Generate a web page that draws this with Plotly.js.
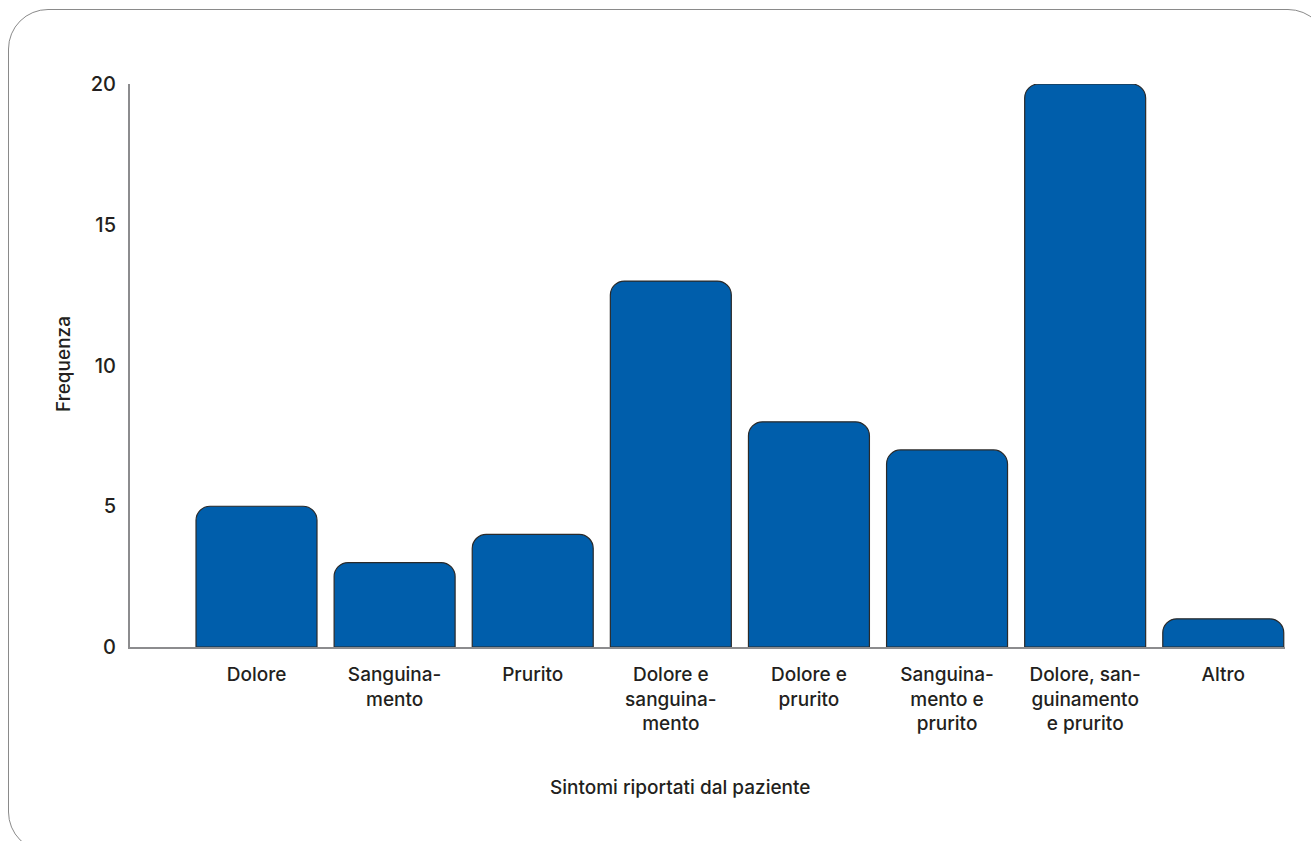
<!DOCTYPE html>
<html>
<head>
<meta charset="utf-8">
<script src="https://cdn.plot.ly/plotly-3.0.1.min.js"></script>
<style>
  html, body { margin: 0; padding: 0; background: #ffffff; overflow: hidden; }
  #wrap { position: relative; width: 1311px; height: 841px; overflow: hidden; }
  #chart { position: absolute; left: 0; top: 0; width: 1311px; height: 841px; }
  #frame {
    position: absolute; left: 8px; top: 9px; width: 1320px; height: 843px;
    border: 1.5px solid #8a8a8a; border-radius: 40px; box-sizing: border-box;
    pointer-events: none;
  }
</style>
</head>
<body>
<div id="wrap">
  <div id="chart"></div>
  <div id="frame"></div>
</div>
<script>
// Symptom categories (x positions), their labels and reported frequencies
const categories = [0, 1, 2, 3, 4, 5, 6, 7];
const categoryLabels = [
  "Dolore",
  "Sanguina-<br>mento",
  "Prurito",
  "Dolore e<br>sanguina-<br>mento",
  "Dolore e<br>prurito",
  "Sanguina-<br>mento e<br>prurito",
  "Dolore, san-<br>guinamento<br>e prurito",
  "Altro"
];
const frequencies = [5, 3, 4, 13, 8, 7, 20, 1];
const yTicks = [0, 5, 10, 15, 20];

const FONT = "Inter, 'Liberation Sans', Arial, sans-serif";
const TEXT = "#231f20";

const trace = {
  type: "bar",
  x: categories,
  y: frequencies,
  width: 0.876,
  marker: {
    color: "#005eab",
    line: { color: "#2a2a2a", width: 1.2 },
    cornerradius: 14
  },
  hoverinfo: "none"
};

const font = (size) => ({ family: FONT, size: size, color: TEXT, weight: 500 });

const layout = {
  width: 1311,
  height: 841,
  margin: { l: 130, r: 26, t: 84, b: 194 },
  paper_bgcolor: "rgba(0,0,0,0)",
  plot_bgcolor: "rgba(0,0,0,0)",
  showlegend: false,
  font: font(19),
  xaxis: {
    range: [-0.916, 7.447],
    tickvals: categories,
    ticktext: categoryLabels,
    ticks: "",
    showgrid: false,
    zeroline: false,
    showline: true,
    linecolor: "#8c8c8e",
    linewidth: 2,
    ticklabelstandoff: 9,
    tickfont: font(19),
    fixedrange: true
  },
  yaxis: {
    range: [0, 20],
    tickvals: yTicks,
    ticktext: yTicks.map(String),
    ticks: "",
    showgrid: false,
    zeroline: false,
    showline: true,
    linecolor: "#8c8c8e",
    linewidth: 2,
    ticklabelstandoff: 8,
    tickfont: font(20),
    fixedrange: true
  },
  annotations: [
    {
      text: "Sintomi riportati dal paziente",
      xref: "paper", yref: "paper",
      x: 0.476, y: -0.2504,
      xanchor: "center", yanchor: "middle",
      showarrow: false,
      font: font(19)
    },
    {
      text: "Frequenza",
      xref: "paper", yref: "paper",
      x: -0.0571, y: 0.5027,
      xanchor: "center", yanchor: "middle",
      textangle: -90,
      showarrow: false,
      font: font(19)
    }
  ]
};

Plotly.newPlot("chart", [trace], layout, { displayModeBar: false, staticPlot: true });
</script>
</body>
</html>
